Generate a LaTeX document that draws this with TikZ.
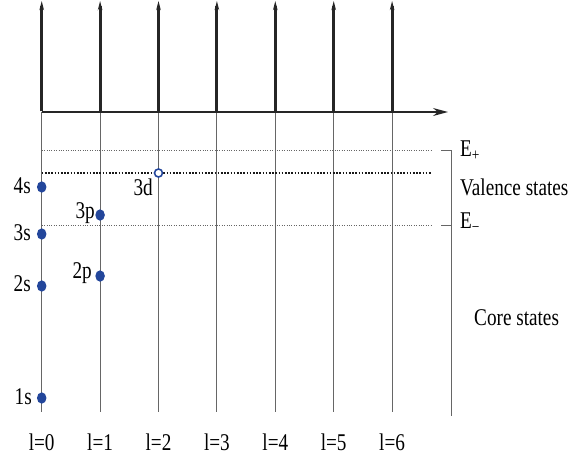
\documentclass[tikz,border=0pt]{standalone}
\usepackage{fontspec}
\setmainfont{Liberation Serif}
\newfontfamily\condserif[FakeStretch=0.8]{Liberation Serif}
\usetikzlibrary{arrows.meta}
\definecolor{dotblue}{RGB}{35,70,155}
\begin{document}
\begin{tikzpicture}[x=1pt,y=-1pt,
  lbl/.style={font=\condserif\fontsize{24}{24}\selectfont, inner sep=0pt},
  spike/.style={line width=3pt, black!85, -{Stealth[length=9pt,width=4.5pt]}},
  axisline/.style={line width=1.2pt, black!85, -{Stealth[length=15pt,width=8pt]}},
  gridline/.style={line width=1pt, black!60},
  edot/.style={line width=0.9pt, black!60, dash pattern=on 1pt off 1.4pt},
  fdot/.style={line width=1.6pt, black!90, dash pattern=on 1.6pt off 1.6pt},
  state/.style={circle, fill=dotblue, minimum size=9.5pt, inner sep=0pt, yscale=1.2},
  emptystate/.style={circle, draw=dotblue, fill=white, line width=1.6pt, minimum size=8pt, inner sep=0pt}
  ]
\useasboundingbox (0,0) rectangle (576,459);
% columns
\foreach \i in {0,...,6}{
  \coordinate (top\i) at ({41.7+58.4*\i},1);
  \coordinate (ax\i) at ({41.7+58.4*\i},112);
  \coordinate (bot\i) at ({41.7+58.4*\i},412);
  \node[lbl] (l\i) at ({41.7+58.4*\i},442) {l=\i};
  \draw[gridline] (ax\i) -- (bot\i);
  \draw[spike] ([yshift=0.6pt]ax\i) -- (top\i);
}
% horizontal axis
\coordinate (axend) at (448,112);
\draw[axisline] (ax0) -- (axend);
% energy levels
\coordinate (ep0) at (41.7,150); \coordinate (ep1) at (432,150);
\coordinate (ev0) at (41.7,173); \coordinate (ev1) at (432,173);
\coordinate (em0) at (41.7,225); \coordinate (em1) at (432,225);
\draw[edot] (ep0) -- (ep1);
\draw[fdot] (ev0) -- (ev1);
\draw[edot] (em0) -- (em1);
% bracket
\coordinate (brt) at (451,150);
\coordinate (brm) at (451,225);
\coordinate (brb) at (451,416);
\coordinate (tkp) at (441,150);
\coordinate (tkm) at (441,225);
\draw[gridline] (tkp) -- (brt) -- (brb);
\draw[gridline] (tkm) -- (brm);
% states
\node[state] (s4) at (41.7,187) {};
\node[state] (s3) at (41.7,234) {};
\node[state] (s2) at (41.7,286) {};
\node[state] (s1) at (41.7,398) {};
\node[state] (p3) at (100.1,215) {};
\node[state] (p2) at (100.1,276) {};
\node[emptystate] (d3) at (158.5,173) {};
% state labels
\node[lbl, anchor=east] (t4s) at (31,186) {4s};
\node[lbl, anchor=east] (t3s) at (31,233) {3s};
\node[lbl, anchor=east] (t2s) at (31,284) {2s};
\node[lbl, anchor=east] (t1s) at (32,397) {1s};
\node[lbl, anchor=east] (t3p) at (95,213) {3p};
\node[lbl, anchor=east] (t2p) at (92,273) {2p};
\node[lbl, anchor=east] (t3d) at (153,187) {3d};
% right labels
\node[lbl, anchor=west] (Ep) at (460,151) {E\textsubscript{+}};
\node[lbl, anchor=west] (val) at (460,187) {Valence states};
\node[lbl, anchor=west] (Em) at (460,223) {E\textsubscript{\char"2212}};
\node[lbl, anchor=west] (core) at (474,318) {Core states};
\end{tikzpicture}
\end{document}
